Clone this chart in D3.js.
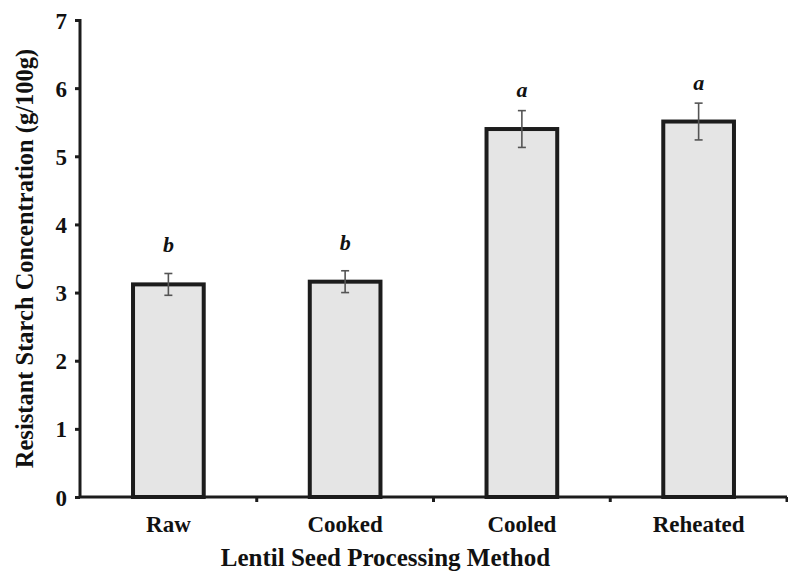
<!DOCTYPE html>
<html>
<head>
<meta charset="utf-8">
<script src="https://cdn.jsdelivr.net/npm/d3@7"></script>
<style>
  body { margin: 0; background: #fff; }
  text { font-family: "Liberation Serif", "DejaVu Serif", serif; font-weight: bold; fill: #111; }
</style>
</head>
<body>
<div id="chart"></div>
<script>
// Resistant starch by lentil processing method

const methods = ["Raw", "Cooked", "Cooled", "Reheated"];
const starchValues = [3.12, 3.16, 5.40, 5.51];
const starchErrors = [0.16, 0.16, 0.27, 0.27];
const groupLetters = ["b", "b", "a", "a"];
const yTicks = [0, 1, 2, 3, 4, 5, 6, 7];

const width = 788, height = 572;
const margin = { top: 20, right: 1, bottom: 75, left: 80 };
const innerW = width - margin.left - margin.right;
const innerH = height - margin.top - margin.bottom;

const svg = d3.select("#chart")
  .append("svg")
  .attr("width", width)
  .attr("height", height)
  .append("g")
  .attr("transform", `translate(${margin.left},${margin.top})`);

const x = d3.scaleBand()
  .domain(methods)
  .range([0, innerW])
  .paddingInner(0.6)
  .paddingOuter(0.3);

const y = d3.scaleLinear()
  .domain([0, 7])
  .range([innerH, 0]);

const data = methods.map((m, i) => ({
  name: m, value: starchValues[i], err: starchErrors[i], letter: groupLetters[i]
}));

// bars
svg.selectAll(".bar")
  .data(data)
  .join("rect")
  .attr("class", "bar")
  .attr("x", d => x(d.name))
  .attr("y", d => y(d.value))
  .attr("width", x.bandwidth())
  .attr("height", d => innerH - y(d.value))
  .attr("fill", "#e5e5e5")
  .attr("stroke", "#1c1c1c")
  .attr("stroke-width", 4);

// error bars
const capW = 8;
const err = svg.selectAll(".err")
  .data(data)
  .join("g")
  .attr("class", "err")
  .attr("stroke", "#555")
  .attr("stroke-width", 1.6);

err.append("line")
  .attr("x1", d => x(d.name) + x.bandwidth() / 2)
  .attr("x2", d => x(d.name) + x.bandwidth() / 2)
  .attr("y1", d => y(d.value + d.err))
  .attr("y2", d => y(d.value - d.err));

err.append("line")
  .attr("x1", d => x(d.name) + x.bandwidth() / 2 - capW / 2)
  .attr("x2", d => x(d.name) + x.bandwidth() / 2 + capW / 2)
  .attr("y1", d => y(d.value + d.err))
  .attr("y2", d => y(d.value + d.err));

err.append("line")
  .attr("x1", d => x(d.name) + x.bandwidth() / 2 - capW / 2)
  .attr("x2", d => x(d.name) + x.bandwidth() / 2 + capW / 2)
  .attr("y1", d => y(d.value - d.err))
  .attr("y2", d => y(d.value - d.err));

// significance letters
svg.selectAll(".letter")
  .data(data)
  .join("text")
  .attr("class", "letter")
  .attr("x", d => x(d.name) + x.bandwidth() / 2)
  .attr("y", d => y(d.value) - 32)
  .attr("text-anchor", "middle")
  .style("font-style", "italic")
  .style("font-size", "22px")
  .text(d => d.letter);

// y axis
const yAxis = svg.append("g")
  .call(d3.axisLeft(y).tickValues(yTicks).tickSize(5).tickPadding(8).tickFormat(d3.format("d")));
yAxis.select(".domain").attr("stroke", "#1c1c1c").attr("stroke-width", 3).attr("d", `M-5,0.5H0V${innerH}`);
yAxis.selectAll(".tick line").attr("stroke", "#1c1c1c").attr("stroke-width", 3);
yAxis.selectAll(".tick text").style("font-size", "23px").attr("dy", "0.35em");

// x axis with ticks at category boundaries
const xAxis = svg.append("g")
  .attr("transform", `translate(0,${innerH})`)
  .call(d3.axisBottom(x).tickSize(0).tickPadding(18));
xAxis.select(".domain").attr("stroke", "#1c1c1c").attr("stroke-width", 3).attr("d", `M0,0H${innerW}`);
xAxis.selectAll(".tick text").style("font-size", "23px").attr("dy", null).attr("y", 35);

const step = x.step();
const boundaries = methods.map((m, i) => x(m) + x.bandwidth() / 2 + step / 2);
xAxis.selectAll(".bound")
  .data(boundaries)
  .join("line")
  .attr("class", "bound")
  .attr("x1", d => d).attr("x2", d => d)
  .attr("y1", 0).attr("y2", 5)
  .attr("stroke", "#1c1c1c")
  .attr("stroke-width", 3);

// axis titles
svg.append("text")
  .attr("x", innerW / 2 - 48)
  .attr("y", innerH + 69)
  .attr("text-anchor", "middle")
  .style("font-size", "25px")
  .text("Lentil Seed Processing Method");

svg.append("text")
  .attr("transform", "rotate(-90)")
  .attr("x", -innerH / 2)
  .attr("y", -47)
  .attr("text-anchor", "middle")
  .style("font-size", "24.5px")
  .text("Resistant Starch Concentration (g/100g)");
</script>
</body>
</html>
